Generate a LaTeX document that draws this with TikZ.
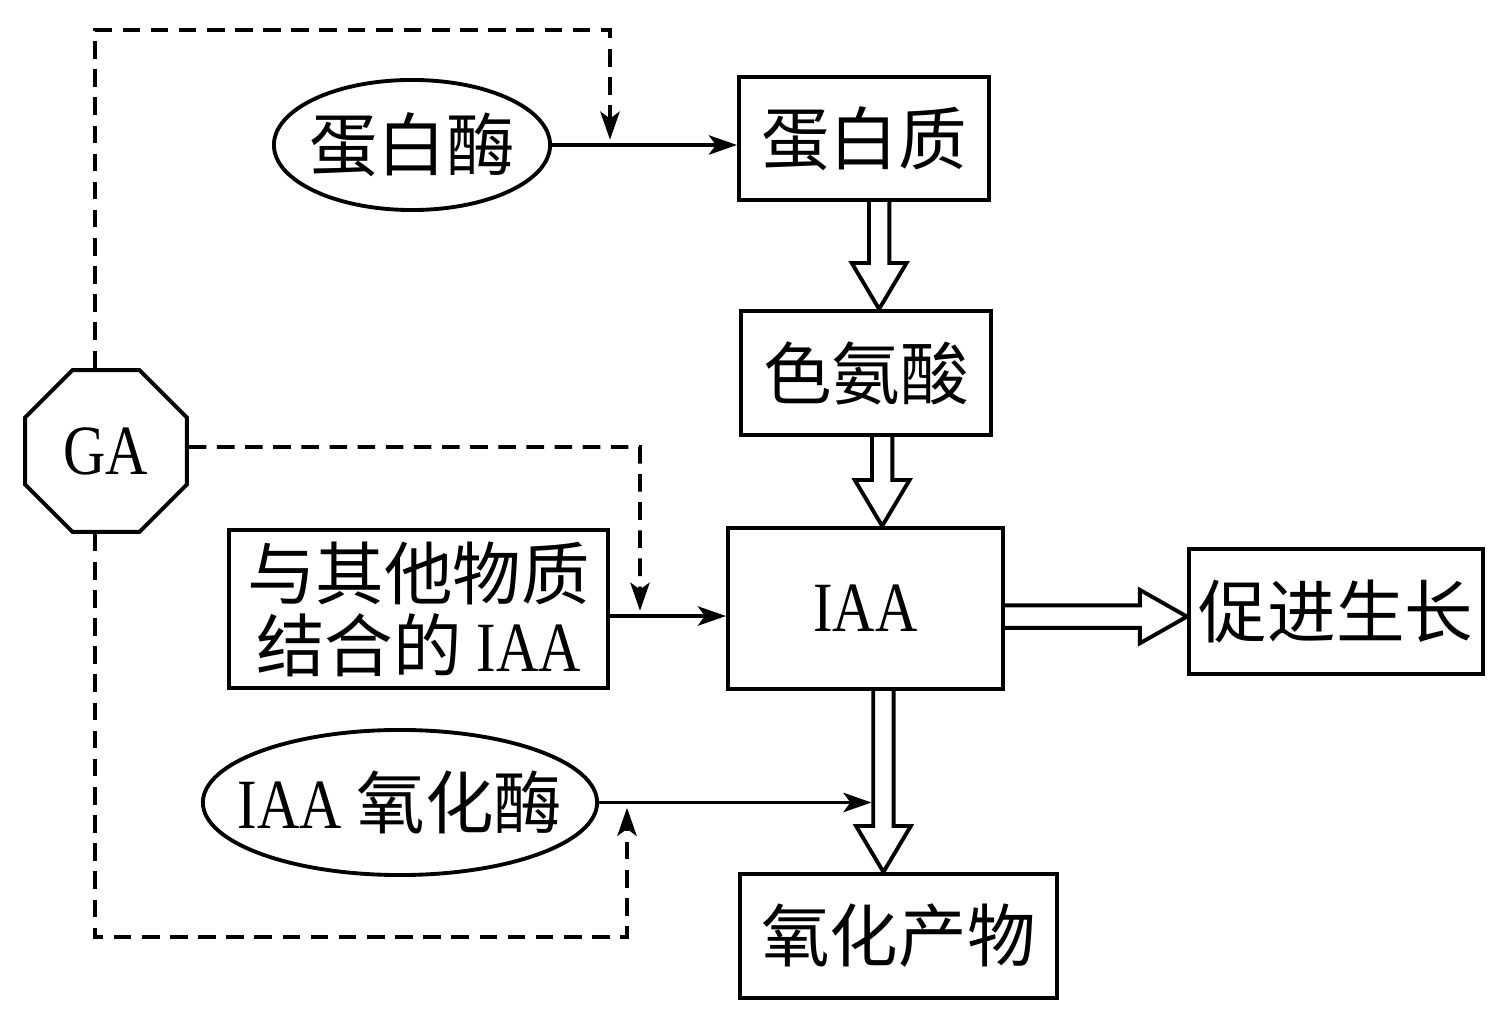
\documentclass[tikz,border=0pt]{standalone}
\usepackage{fontspec}
\setmainfont{Liberation Serif}[FakeStretch=0.83,Scale=1.03]
\newfontfamily\cjk{Noto Sans CJK SC}
\usetikzlibrary{shapes.geometric,arrows.meta,calc}

\tikzset{
  box/.style={draw,line width=1.1pt,inner sep=0pt,align=center,
    font=\fontsize{19.5}{20.5}\selectfont},
  oval/.style={box,ellipse},
  fat/.style={line width=1.1pt,line join=miter},
  link/.style={line width=1.05pt,-{Stealth[length=8pt,width=5.5pt,inset=2pt]}},
  gadash/.style={link,dash pattern=on 5pt off 3pt,shorten >=1.5pt},
}

% hollow arrow pointing down, from #1 to the tip #2
\newcommand{\fatdown}[2]{%
  \draw[fat] let \p1=(#1), \p2=(#2) in
    (\x1-2.9pt,\y1) -- (\x1-2.9pt,\y2+13.1pt) -- (\x1-7.8pt,\y2+13.1pt)
    -- (\x1,\y2) -- (\x1+7.8pt,\y2+13.1pt) -- (\x1+2.9pt,\y2+13.1pt) -- (\x1+2.9pt,\y1);}
% hollow arrow pointing right, from #1 to the tip #2
\newcommand{\fatright}[2]{%
  \draw[fat] let \p1=(#1), \p2=(#2) in
    (\x1,\y1+3.2pt) -- (\x2-13.4pt,\y1+3.2pt) -- (\x2-13.4pt,\y1+7.6pt)
    -- (\x2,\y1) -- (\x2-13.4pt,\y1-7.6pt) -- (\x2-13.4pt,\y1-3.2pt) -- (\x1,\y1-3.2pt);}

\begin{document}
\begin{tikzpicture}[x=0.01cm,y=-0.01cm]
      \useasboundingbox (0,0) rectangle (1506,1025);

      %% nodes
      \node[oval,minimum width=2.76cm,minimum height=1.3cm] (dbm) at (412,145)
        {\makebox[0pt]{\cjk 蛋白酶}};
      \node[box,minimum width=2.5cm,minimum height=1.23cm] (dbz) at (864,138.5) {{\cjk 蛋白质}};
      \node[box,minimum width=2.5cm,minimum height=1.24cm] (sean) at (866,373) {{\cjk 色氨酸}};
      \node[box,minimum width=2.75cm,minimum height=1.61cm] (iaa) at (865.5,608.5) {IAA};
      \node[box,minimum width=2.94cm,minimum height=1.25cm] (cjsz) at (1336,611.5) {{\cjk 促进生长}};
      \node[box,minimum width=3.79cm,minimum height=1.58cm] (jh) at (418.5,609)
        {{\cjk 与其他物质}\\{\cjk 结合的} IAA};
      \node[oval,minimum width=3.94cm,minimum height=1.45cm] (yhm) at (400,802.5)
        {\makebox[0pt]{IAA {\cjk 氧化酶}}};
      \node[box,minimum width=3.17cm,minimum height=1.24cm] (yhcw) at (898.5,936) {{\cjk 氧化产物}};
      \node[box,regular polygon,regular polygon sides=8,minimum size=1.75cm] (ga) at (106,451) {GA};

      %% corners of the dashed lines
      \coordinate (c1) at (610,30);
      \coordinate (c2) at (640,447);
      \coordinate (c3) at (627,937);
      \coordinate (jline) at ([yshift=-2pt]jh.east);

      %% hollow arrows
      % dbz -> sean
      \fatdown{[xshift=4.3pt]dbz.south}{sean.north}
      % sean -> iaa
      \fatdown{[xshift=4.6pt]sean.south}{iaa.north}
      % iaa -> yhcw
      \fatdown{[xshift=5.1pt]iaa.south}{yhcw.north}
      % iaa -> cjsz
      \fatright{[yshift=-2.3pt]iaa.east}{cjsz.west}

      %% solid arrows
      % dbm -> dbz
      \draw[link] (dbm.east) -- (dbm.east -| dbz.west);
      % jh -> iaa
      \draw[link] (jline) -- (jline -| iaa.west);
      % yhm -> iaa/yhcw arrow
      \draw[link] (yhm.east) -- ($(yhm.east -| iaa.south)+(6,0)$);

      %% dashed arrows from GA
      \draw[gadash] ([xshift=-0.11cm]ga.north) |- (c1) -- (c1 |- dbm.east);
      \draw[gadash] ([yshift=0.04cm]ga.east) -- (c2) -- (c2 |- jline);
      \draw[gadash] ([xshift=-0.11cm]ga.south) |- (c3) -- (c3 |- yhm.east);

\end{tikzpicture}
\end{document}
